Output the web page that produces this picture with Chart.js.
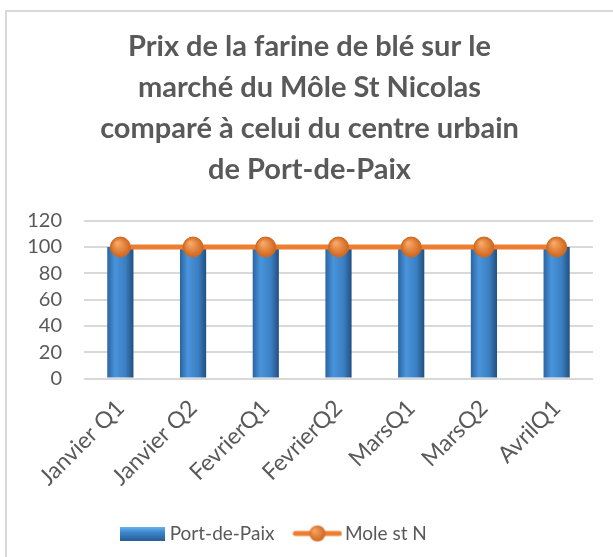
<!DOCTYPE html>
<html>
<head>
<meta charset="utf-8">
<script src="https://cdn.jsdelivr.net/npm/chart.js@4"></script>
<style>
  html, body { margin: 0; padding: 0; background: #fff; overflow: hidden; }
  #frame { position: absolute; left: 5px; top: 10px; width: 700px; height: 700px;
           border-left: 2px solid #d9d9d9; border-top: 2px solid #d9d9d9; }
  #wrap { position: absolute; left: 0; top: 0; width: 613px; height: 557px; }
</style>
</head>
<body>
<div id="frame"></div>
<div id="wrap"><canvas id="chart"></canvas></div>
<script>
const categories = ['Janvier Q1', 'Janvier Q2', 'FevrierQ1', 'FevrierQ2', 'MarsQ1', 'MarsQ2', 'AvrilQ1'];
const portDePaix = [100, 100, 100, 100, 100, 100, 100];
const moleStN = [100, 100, 100, 100, 100, 100, 100];
const yTicks = [0, 20, 40, 60, 80, 100, 120];
const titleLines = ['Prix de la farine de blé sur le', 'marché du Môle St Nicolas',
                    'comparé à celui du centre urbain', 'de Port-de-Paix'];

const textColor = '#595959';
const barPct = 0.45, catPct = 0.8;

// little pictures for the legend keys
function barIcon() {
    const c = document.createElement('canvas');
    c.width = 45; c.height = 14;
    const g = c.getContext('2d');
    const grd = g.createLinearGradient(0, 0, 0, 14);
    grd.addColorStop(0, '#6cb8f0');
    grd.addColorStop(0.4, '#3f88cf');
    grd.addColorStop(1, '#2a5f94');
    g.fillStyle = grd;
    g.fillRect(0, 0, 45, 14);
    return c;
}
function lineIcon() {
    const c = document.createElement('canvas');
    c.width = 50; c.height = 22;
    const g = c.getContext('2d');
    g.strokeStyle = '#ed7d31'; g.lineWidth = 5; g.lineCap = 'round';
    g.beginPath(); g.moveTo(3, 11); g.lineTo(47, 11); g.stroke();
    const grd = g.createRadialGradient(22, 8, 1, 25, 11, 9);
    grd.addColorStop(0, '#f7a25c');
    grd.addColorStop(1, '#c9611b');
    g.fillStyle = grd;
    g.beginPath(); g.arc(25, 11, 8, 0, Math.PI * 2); g.fill();
    return c;
}

function barFill(c) {
    const xs = c.chart.scales.x;
    if (!xs || c.dataIndex === undefined) return '#3b80c6';
    const cx = xs.getPixelForValue(c.dataIndex);
    const half = xs.width / categories.length * barPct * catPct / 2;
    const g = c.chart.ctx.createLinearGradient(cx - half, 0, cx + half, 0);
    g.addColorStop(0, '#2a64a0');
    g.addColorStop(0.3, '#4a94dc');
    g.addColorStop(0.7, '#3a7fc2');
    g.addColorStop(1, '#224f80');
    return g;
}

function markerFill(c) {
    const el = c.element;
    if (!el || el.x === undefined) return '#ed7d31';
    const g = c.chart.ctx.createRadialGradient(el.x - 3, el.y - 4, 1, el.x, el.y, 10);
    g.addColorStop(0, '#f8a766');
    g.addColorStop(1, '#cf661d');
    return g;
}

// excel puts the legend a bit left of the middle
const shiftLegend = {
    id: 'shiftLegend',
    afterLayout(chart) {
        chart.legend.left -= 34;
        chart.legend.right -= 34;
    }
};

const icons = [barIcon(), lineIcon()];

new Chart(document.getElementById('chart').getContext('2d'), {
    data: {
        labels: categories,
        datasets: [
            {
                type: 'bar',
                label: 'Port-de-Paix',
                data: portDePaix,
                backgroundColor: barFill,
                barPercentage: barPct,
                categoryPercentage: catPct,
                order: 1
            },
            {
                type: 'line',
                label: 'Mole st N',
                data: moleStN,
                borderColor: '#ed7d31',
                borderWidth: 5,
                pointRadius: 10,
                pointBorderWidth: 1,
                pointBorderColor: '#d2691e',
                pointBackgroundColor: markerFill,
                fill: false,
                order: 0
            }
        ]
    },
    options: {
        responsive: true,
        maintainAspectRatio: false,
        animation: false,
        layout: { padding: { left: 26, right: 20, top: 10, bottom: 4 } },
        plugins: {
            title: {
                display: true,
                text: titleLines,
                color: textColor,
                font: { family: 'Lato', size: 29, weight: 'bold', lineHeight: 1.42 },
                padding: { top: 16, bottom: 30 }
            },
            legend: {
                position: 'bottom',
                labels: {
                    color: textColor,
                    font: { family: 'Lato', size: 19 },
                    usePointStyle: true,
                    pointStyleWidth: 36,
                    padding: 25,
                    sort: (a, b) => a.datasetIndex - b.datasetIndex,
                    generateLabels(chart) {
                        return chart.data.datasets.map((ds, i) => ({
                            text: ds.label,
                            pointStyle: icons[i],
                            fontColor: textColor,
                            lineWidth: 0,
                            datasetIndex: i
                        }));
                    }
                }
            },
            tooltip: { enabled: false }
        },
        scales: {
            x: {
                grid: { display: false },
                border: { display: false },
                afterFit(axis) { axis.paddingLeft = 0; axis.paddingRight = 0; },
                ticks: {
                    color: textColor,
                    font: { family: 'Lato', size: 23 },
                    minRotation: 45,
                    maxRotation: 45,
                    padding: 8
                }
            },
            y: {
                min: 0,
                max: 120,
                afterBuildTicks(axis) { axis.ticks = yTicks.map(v => ({ value: v })); },
                afterFit(axis) { axis.width = 58; },
                grid: { color: '#d9d9d9', lineWidth: 2, drawTicks: false },
                border: { display: false },
                ticks: {
                    color: textColor,
                    font: { family: 'Lato', size: 20 },
                    padding: 22,
                    autoSkip: false
                }
            }
        }
    },
    plugins: [shiftLegend]
});
</script>
</body>
</html>
